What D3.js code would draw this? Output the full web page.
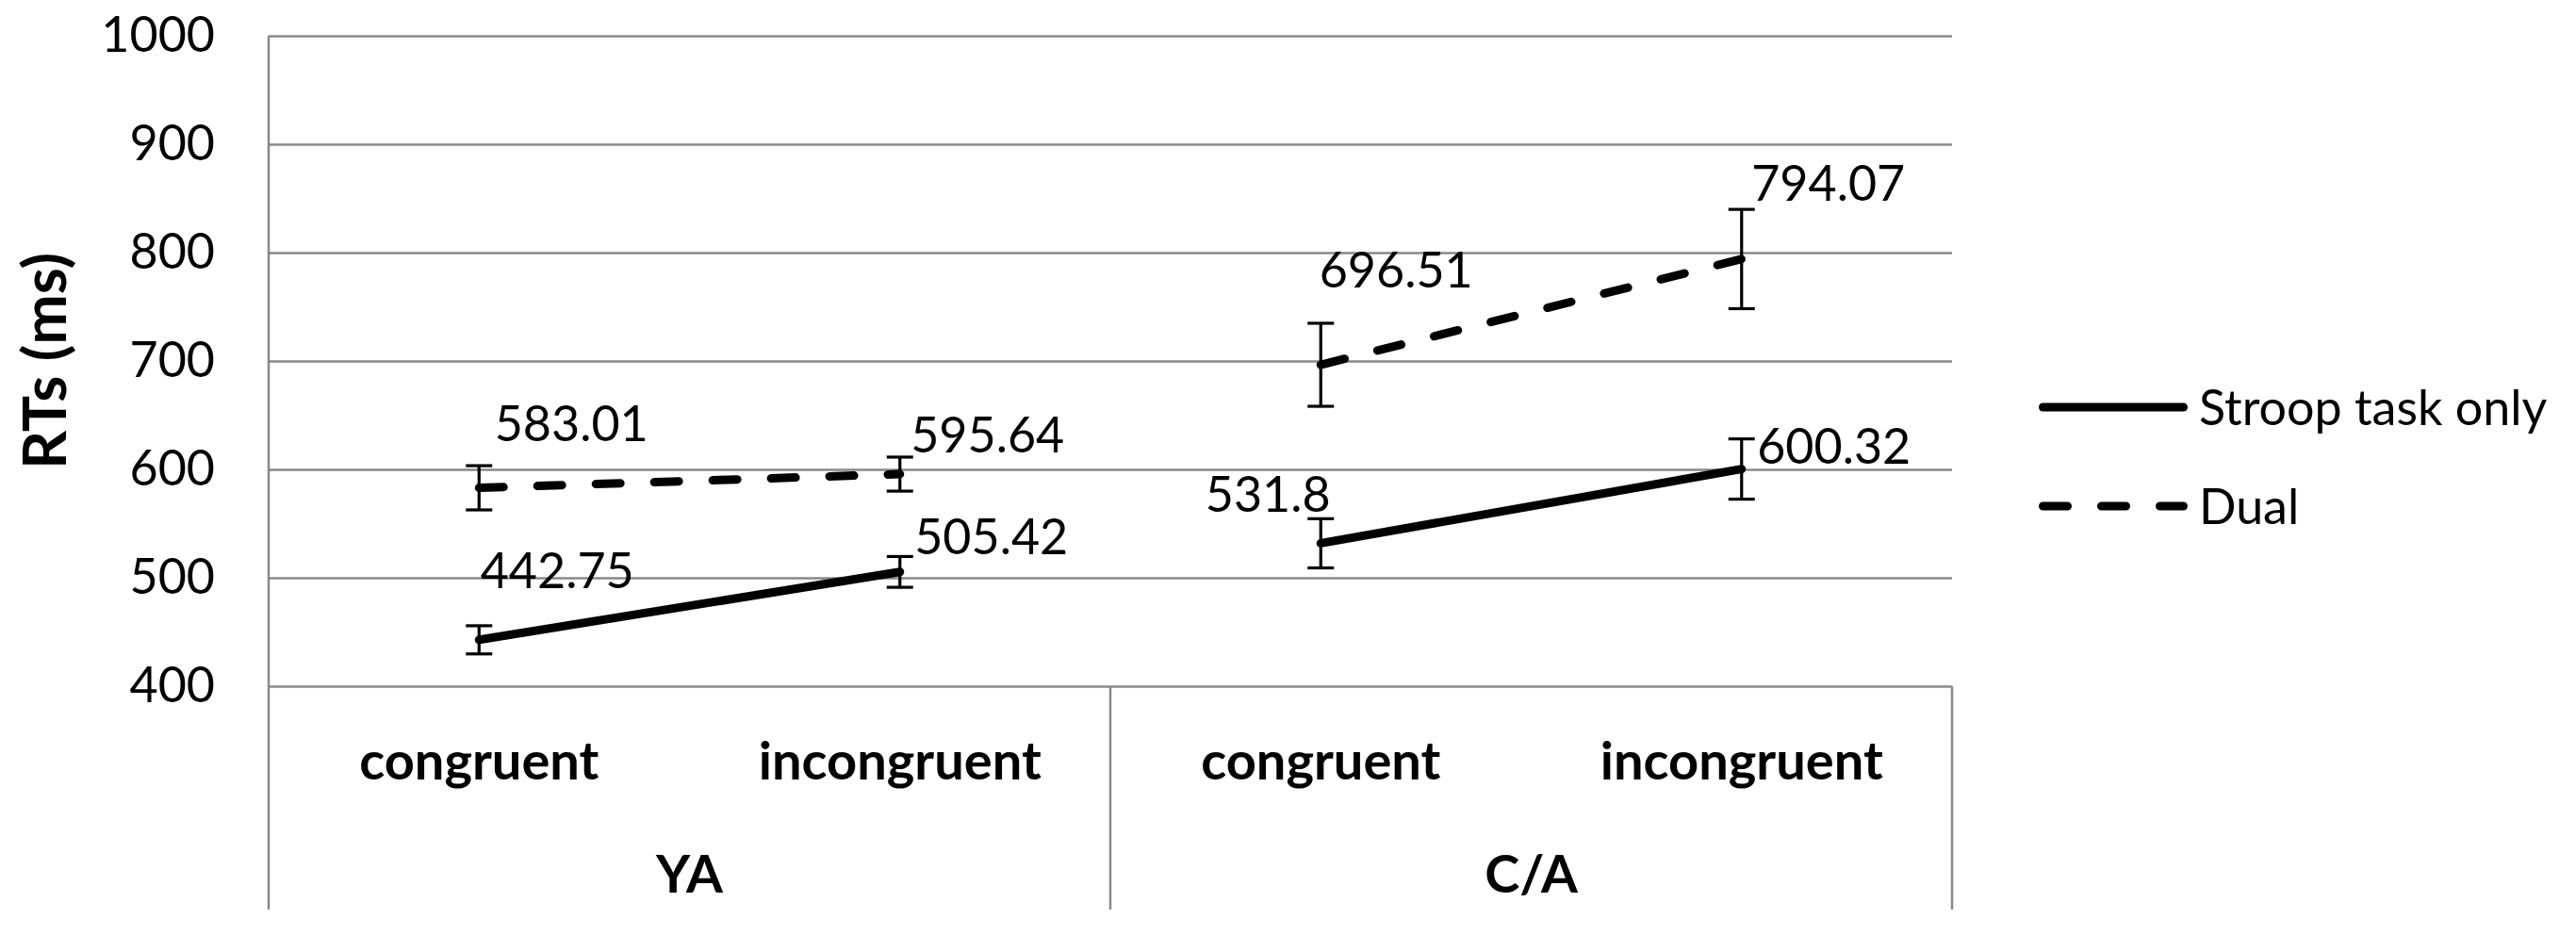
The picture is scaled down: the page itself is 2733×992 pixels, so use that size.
<!DOCTYPE html>
<html>
<head>
<meta charset="utf-8">
<script src="https://cdn.jsdelivr.net/npm/d3@7"></script>
<style>
  html, body { margin: 0; padding: 0; background: #fff; }
  svg { display: block; }
  text { font-family: Lato, "Open Sans", sans-serif; fill: #000; }
</style>
</head>
<body>
<svg id="chart" width="2733" height="992"></svg>
<script>
// ---------- data ----------
const groups = ["YA", "C/A"];
const conditions = ["congruent", "incongruent"];
const seriesNames = ["Stroop task only", "Dual"];
const stroopValues = [442.75, 505.42, 531.8, 600.32];
const dualValues = [583.01, 595.64, 696.51, 794.07];
const stroopErrors = [13.0, 14.2, 22.7, 27.8];
const dualErrors = [20.4, 15.7, 38.3, 45.8];
const yTicks = [400, 500, 600, 700, 800, 900, 1000];
const yTitle = "RTs (ms)";

// ---------- layout / style (not data) ----------
const plot = { left: 285, right: 2071, top: 38, bottom: 728, axisBottom: 965 };
const gridColor = "#898989";
// label offsets (px) relative to each point: [dx of label centre, dy of baseline]
const stroopLabelOffsets = [[83, -55], [97, -19], [-56, -33], [98, -6]];
const dualLabelOffsets = [[98, -50], [93, -23], [80, -82], [92, -62]];

const svg = d3.select("#chart");

const categories = [];
groups.forEach(g => conditions.forEach(c => categories.push(g + "|" + c)));

const x = d3.scaleBand().domain(categories).range([plot.left, plot.right]).padding(0);
const xc = k => x(k) + x.bandwidth() / 2;
const gx = d3.scaleBand().domain(groups).range([plot.left, plot.right]).padding(0);
const y = d3.scaleLinear().domain([400, 1000]).range([plot.bottom, plot.top]);

// gridlines + y tick labels via axis
const yAxis = d3.axisLeft(y).tickValues(yTicks).tickFormat(d3.format("d"))
  .tickSize(-(plot.right - plot.left)).tickPadding(57);
const ya = svg.append("g").attr("transform", `translate(${plot.left},0)`).call(yAxis);
ya.select(".domain").remove();
ya.selectAll(".tick line").attr("stroke", gridColor).attr("stroke-width", 2.5);
ya.selectAll(".tick text")
  .style("font-family", "Lato, sans-serif")
  .attr("font-size", 52)
  .attr("fill", "#000");

// vertical axis line and category frame
svg.append("line").attr("x1", plot.left).attr("x2", plot.left)
  .attr("y1", plot.top).attr("y2", plot.axisBottom)
  .attr("stroke", gridColor).attr("stroke-width", 2.5);
// group dividers and right frame below axis
const dividers = groups.map(g => gx(g) + gx.bandwidth());
svg.selectAll("line.div").data(dividers).enter().append("line")
  .attr("x1", d => d).attr("x2", d => d)
  .attr("y1", plot.bottom).attr("y2", plot.axisBottom)
  .attr("stroke", gridColor).attr("stroke-width", 2.5);

// category labels
svg.selectAll("text.cat").data(categories).enter().append("text")
  .attr("x", d => xc(d)).attr("y", 827)
  .attr("text-anchor", "middle")
  .attr("font-size", 56).attr("font-weight", "bold")
  .text(d => d.split("|")[1]);

// group labels
svg.selectAll("text.grp").data(groups).enter().append("text")
  .attr("x", d => gx(d) + gx.bandwidth() / 2).attr("y", 947)
  .attr("text-anchor", "middle")
  .attr("font-size", 56).attr("font-weight", "bold")
  .text(d => d);

// y title
svg.append("text")
  .attr("transform", `translate(70, ${(plot.top + plot.bottom) / 2}) rotate(-90)`)
  .attr("text-anchor", "middle")
  .attr("font-size", 64).attr("font-weight", "bold")
  .text(yTitle);

// series
const series = [
  { name: seriesNames[0], values: stroopValues, errors: stroopErrors, offs: stroopLabelOffsets, dash: null },
  { name: seriesNames[1], values: dualValues, errors: dualErrors, offs: dualLabelOffsets, dash: "26,36" }
];

const lineGen = d3.line().x(d => d[0]).y(d => d[1]);

series.forEach(s => {
  // each group is its own line segment
  groups.forEach((g, gi) => {
    const pts = conditions.map((c, ci) => {
      const i = gi * conditions.length + ci;
      return [xc(g + "|" + c), y(s.values[i])];
    });
    const p = svg.append("path").attr("d", lineGen(pts))
      .attr("fill", "none").attr("stroke", "#000").attr("stroke-width", 9)
      .attr("stroke-linecap", "round").attr("stroke-linejoin", "round");
    if (s.dash) p.attr("stroke-dasharray", s.dash);
  });
  // error bars
  categories.forEach((k, i) => {
    const cx = xc(k);
    const y0 = y(s.values[i] - s.errors[i]);
    const y1 = y(s.values[i] + s.errors[i]);
    const g = svg.append("g").attr("stroke", "#000").attr("stroke-width", 3.2);
    g.append("line").attr("x1", cx).attr("x2", cx).attr("y1", y0).attr("y2", y1);
    g.append("line").attr("x1", cx - 14).attr("x2", cx + 14).attr("y1", y0).attr("y2", y0);
    g.append("line").attr("x1", cx - 14).attr("x2", cx + 14).attr("y1", y1).attr("y2", y1);
  });
  // value labels
  categories.forEach((k, i) => {
    svg.append("text")
      .attr("x", xc(k) + s.offs[i][0])
      .attr("y", y(s.values[i]) + s.offs[i][1])
      .attr("text-anchor", "middle")
      .attr("font-size", 52)
      .text(String(s.values[i]));
  });
});

// legend
const legendX1 = 2163, legendX2 = 2321, legendYs = [432, 537];
series.forEach((s, i) => {
  const l = svg.append("line")
    .attr("x1", legendX1 + 4.5).attr("x2", legendX2 - 4.5)
    .attr("y1", legendYs[i]).attr("y2", legendYs[i])
    .attr("stroke", "#000").attr("stroke-width", 9).attr("stroke-linecap", "round");
  if (s.dash) l.attr("stroke-dasharray", s.dash);
  svg.append("text")
    .attr("x", 2333).attr("y", legendYs[i] + 19)
    .attr("font-size", 52)
    .text(s.name);
});
</script>
</body>
</html>
